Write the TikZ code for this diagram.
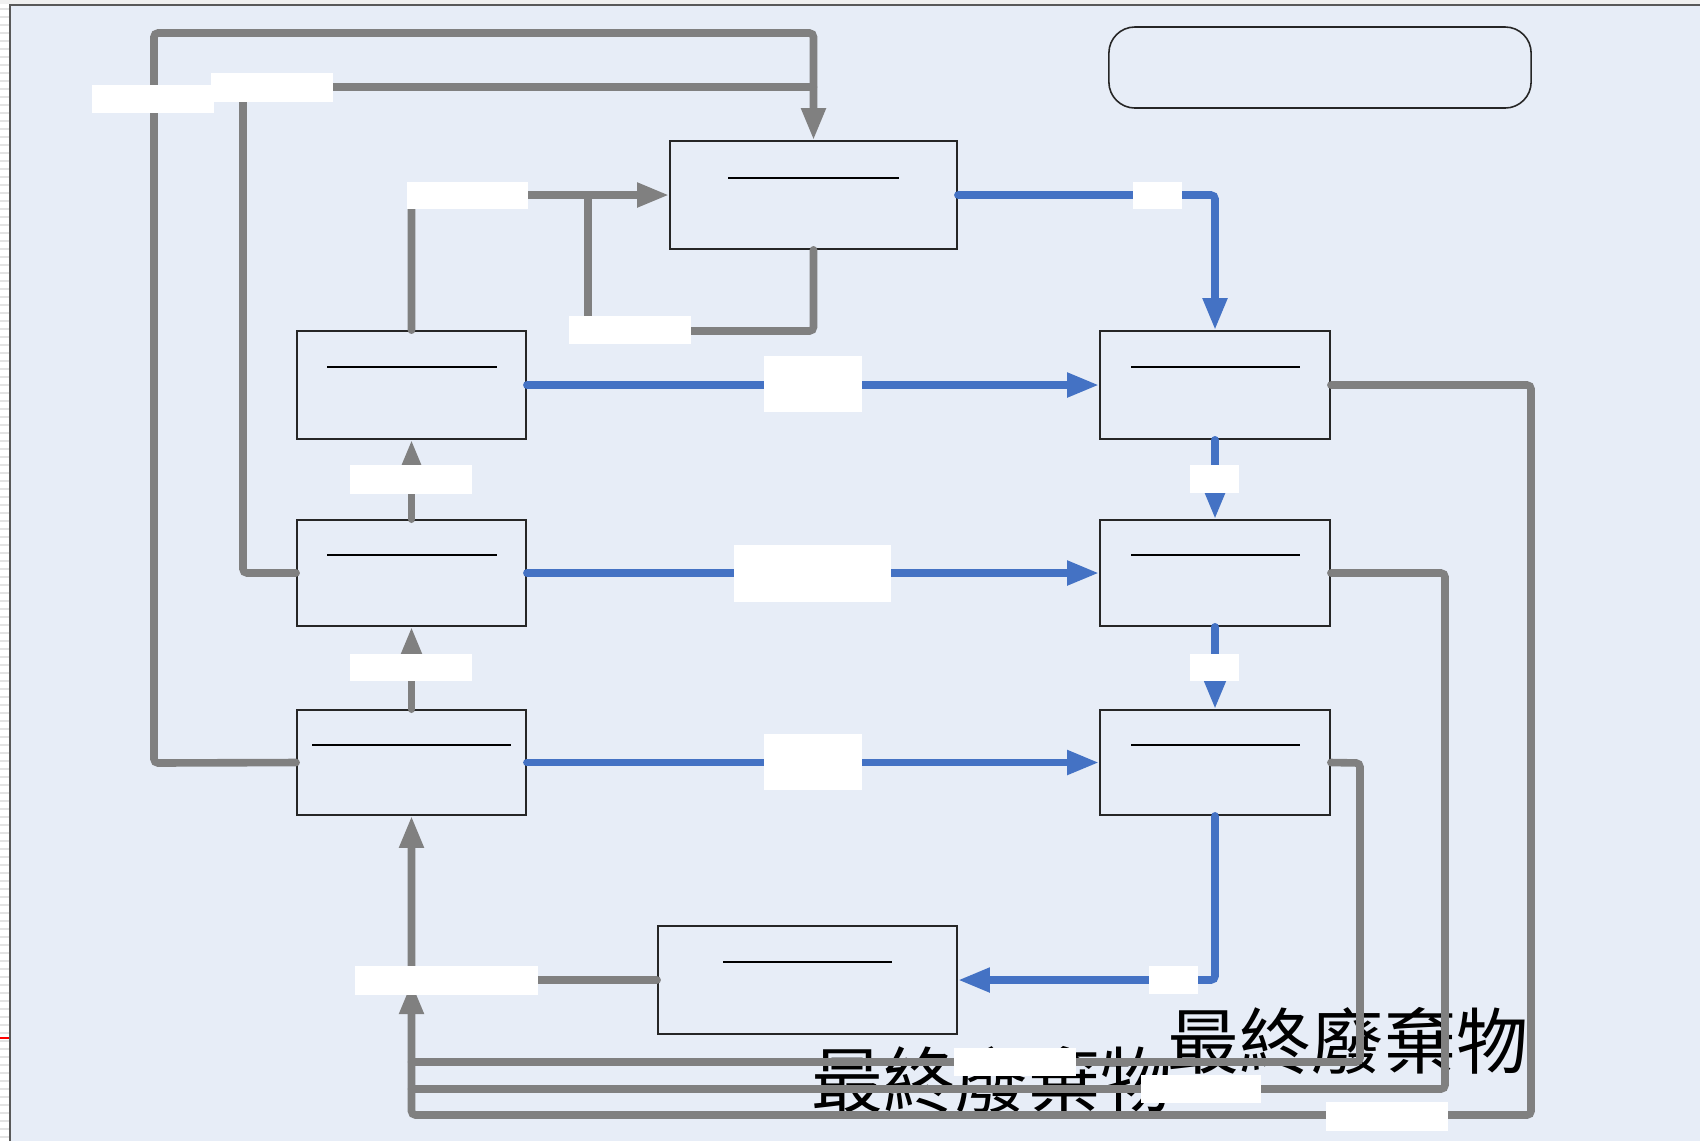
\documentclass[tikz,border=0pt]{standalone}
\usepackage{fontspec}
\newfontfamily\cjk{Noto Sans CJK TC}
\usetikzlibrary{arrows.meta}
\definecolor{bgc}{RGB}{231,237,247}
\definecolor{gline}{RGB}{128,128,128}
\definecolor{bline}{RGB}{68,114,196}
\tikzset{
  box/.style={draw=black!85, line width=0.45pt, fill=bgc, inner sep=0pt, minimum width=2.29cm, minimum height=1.07cm},
  rule/.style={draw=black, line width=0.55pt},
  gconn/.style={draw=gline, line width=0.076cm, line cap=round, rounded corners=0.04cm},
  bconn/.style={draw=bline, line width=0.076cm, line cap=round, rounded corners=0.04cm},
  tip/.style={-{Triangle[length=0.32cm,width=0.23cm]}},
  lbl/.style={fill=white, draw=none, inner sep=0pt},
  cjktext/.style={inner sep=0pt, font=\cjk\fontsize{20.5pt}{24pt}\selectfont}
}
\begin{document}
\begin{tikzpicture}[x=0.01cm,y=-0.01cm]
\useasboundingbox (0,0) rectangle (1700,1141);
% background and frame
\fill[white] (0,0) rectangle (1700,1141);
\foreach \yy in {0,8,...,1136} \fill[gray!22] (0,\yy) rectangle (9,\yy+2);
\fill[gray!12] (0,0) rectangle (1700,4);
\fill[bgc] (10,5) rectangle (1700,1141);
\draw[gray!70!black, line width=0.6pt] (10,1141) -- (10,5) -- (1700,5);
\draw[red, line width=0.5pt] (0,1038) -- (9,1038);

% texts (behind the connectors)
\node[cjktext] (txt1) at (1348,1041) {最終廢棄物};
\node[cjktext] (txt2) at (992,1080) {最終廢棄物};

% boxes
\node[box, minimum width=2.87cm, minimum height=1.08cm] (T) at (813.5,195) {};
\node[box, minimum height=1.08cm] (A) at (411.5,385) {};
\node[box, minimum height=1.06cm] (B) at (411.5,573) {};
\node[box, minimum height=1.05cm] (C) at (411.5,762.5) {};
\node[box, minimum width=2.30cm, minimum height=1.08cm] (D) at (1215,385) {};
\node[box, minimum width=2.30cm, minimum height=1.06cm] (E) at (1215,573) {};
\node[box, minimum width=2.30cm, minimum height=1.05cm] (F) at (1215,762.5) {};
\node[box, minimum width=2.99cm, minimum height=1.08cm] (G) at (807.5,980) {};
\node[draw=black!85, line width=0.45pt, rounded corners=0.26cm, inner sep=0pt,
      minimum width=4.22cm, minimum height=0.81cm] (R) at (1320,67.5) {};

% rules inside boxes
\draw[rule] (728,178) -- (899,178);
\draw[rule] (327,367) -- (497,367);
\draw[rule] (327,555) -- (497,555);
\draw[rule] (312,745) -- (511,745);
\draw[rule] (1131,367) -- (1300,367);
\draw[rule] (1131,555) -- (1300,555);
\draw[rule] (1131,745) -- (1300,745);
\draw[rule] (723,962) -- (892,962);

% bend points
\coordinate (g1a) at (154,763);
\coordinate (g1b) at (154,33);
\coordinate (g1c) at (813.5,33);
\coordinate (g2a) at (243,573);
\coordinate (g2b) at (243,87);
\coordinate (g2c) at (813.5,87);
\coordinate (g3a) at (411.5,195);
\coordinate (g4a) at (813.5,331);
\coordinate (g4b) at (588,331);
\coordinate (g4c) at (588,195);
\coordinate (g7a) at (411.5,980);
\coordinate (g8a) at (1531,385);
\coordinate (g8b) at (1531,1115);
\coordinate (g8c) at (411.5,1115);
\coordinate (g8d) at (411.5,982);
\coordinate (g9a) at (1445,573);
\coordinate (g9b) at (1445,1089);
\coordinate (g9c) at (411.5,1089);
\coordinate (g10a) at (1360,763);
\coordinate (g10b) at (1360,1062);
\coordinate (g10c) at (411.5,1062);
\coordinate (b1a) at (1215,195);
\coordinate (b7a) at (1215,980);

% gray connectors
\draw[gconn, tip] (C.west) -- (g1a) -- (g1b) -- (g1c) -- (T.north);
\draw[gconn] (B.west) -- (g2a) -- (g2b) -- (g2c);
\draw[gconn, tip] (A.north) -- (g3a) -- (T.west);
\draw[gconn] (T.south) -- (g4a) -- (g4b) -- (g4c);
\draw[gconn, tip] (B.north) -- (A.south);
\draw[gconn, tip] (C.north) -- (B.south);
\draw[gconn, tip] (G.west) -- (g7a) -- (C.south);
\draw[gconn, tip] (D.east) -- (g8a) -- (g8b) -- (g8c) -- (g8d);
\draw[gconn] (E.east) -- (g9a) -- (g9b) -- (g9c);
\draw[gconn] (F.east) -- (g10a) -- (g10b) -- (g10c);

% blue connectors
\draw[bconn, tip] (T.east) -- (b1a) -- (D.north);
\draw[bconn, tip] (A.east) -- (D.west);
\draw[bconn, tip] (B.east) -- (E.west);
\draw[bconn, tip] (C.east) -- (F.west);
\draw[bconn, tip] (D.south) -- (E.north);
\draw[bconn, tip] (E.south) -- (F.north);
\draw[bconn, tip] (F.south) -- (b7a) -- (G.east);

% white labels
\node[lbl, minimum width=1.22cm, minimum height=0.28cm] (L1) at (153,99) {};
\node[lbl, minimum width=1.22cm, minimum height=0.29cm] (L2) at (272,87.5) {};
\node[lbl, minimum width=1.21cm, minimum height=0.27cm] (L3) at (467.5,195.5) {};
\node[lbl, minimum width=1.22cm, minimum height=0.28cm] (L4) at (630,330) {};
\node[lbl, minimum width=1.22cm, minimum height=0.29cm] (L5) at (411,479.5) {};
\node[lbl, minimum width=1.22cm, minimum height=0.27cm] (L6) at (411,667.5) {};
\node[lbl, minimum width=1.83cm, minimum height=0.29cm] (L7) at (446.5,980.5) {};
\node[lbl, minimum width=0.49cm, minimum height=0.27cm] (LB1) at (1157.5,195.5) {};
\node[lbl, minimum width=0.98cm, minimum height=0.56cm] (LB2) at (813,384) {};
\node[lbl, minimum width=1.57cm, minimum height=0.57cm] (LB3) at (812.5,573.5) {};
\node[lbl, minimum width=0.98cm, minimum height=0.56cm] (LB4) at (813,762) {};
\node[lbl, minimum width=0.49cm, minimum height=0.28cm] (LB5) at (1214.5,479) {};
\node[lbl, minimum width=0.49cm, minimum height=0.27cm] (LB6) at (1214.5,667.5) {};
\node[lbl, minimum width=0.49cm, minimum height=0.28cm] (LB7) at (1173.5,980) {};
\node[lbl, minimum width=1.22cm, minimum height=0.28cm] (BL1) at (1015,1062) {};
\node[lbl, minimum width=1.20cm, minimum height=0.28cm] (BL2) at (1201,1089) {};
\node[lbl, minimum width=1.21cm, minimum height=0.29cm] (BL3) at (1387,1116.5) {};
\end{tikzpicture}
\end{document}
